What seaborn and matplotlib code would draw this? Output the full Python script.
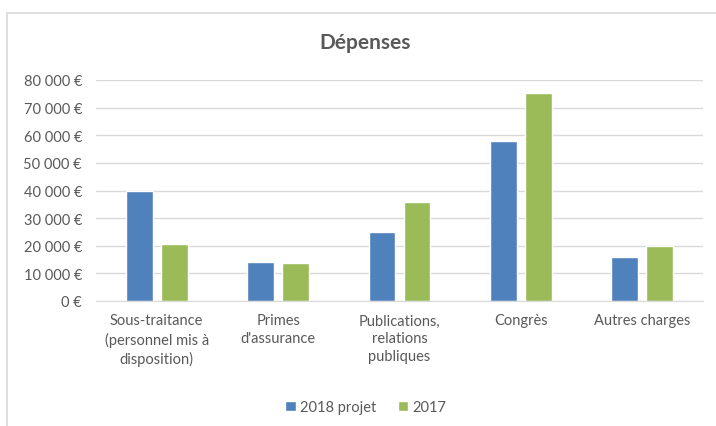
import pandas as pd
import seaborn as sns
import matplotlib.pyplot as plt
from matplotlib.patches import Rectangle
from matplotlib.ticker import FuncFormatter

categories = ["Sous-traitance\n(personnel mis à\ndisposition)", "Primes\nd'assurance",
              "Publications,\nrelations\npubliques", "Congrès", "Autres charges"]
projet_2018 = [40000, 14200, 25000, 58000, 15900]
valeurs_2017 = [20700, 13800, 35900, 75400, 19900]
series = ["2018 projet", "2017"]
couleurs = ["#4F81BD", "#9BBB59"]

df = pd.DataFrame({
    "cat": categories * 2,
    "val": projet_2018 + valeurs_2017,
    "serie": [series[0]] * 5 + [series[1]] * 5,
})

sns.set_style("white")
plt.rcParams["font.family"] = ["Lato", "DejaVu Sans"]
gris = "#595959"

fig = plt.figure(figsize=(7.16, 4.27), dpi=100)
ax = fig.add_axes([96 / 716, 1 - 302 / 427, 607 / 716, 221 / 427])

sns.barplot(data=df, x="cat", y="val", hue="serie", palette=couleurs, saturation=1,
            width=0.577, gap=0.23, ax=ax, legend=True)

ax.set_ylim(0, 80000)
ax.set_yticks(range(0, 80001, 10000))
ax.yaxis.set_major_formatter(FuncFormatter(lambda v, p: f"{int(v):,} €".replace(",", " ")))
ax.grid(axis="y", color="#d9d9d9", lw=1)
ax.set_axisbelow(True)
for s in ["top", "right", "left"]:
    ax.spines[s].set_visible(False)
ax.spines["bottom"].set_color("#d9d9d9")
ax.tick_params(length=0, colors=gris, labelsize=10.5)
ax.tick_params(axis="y", pad=10)
ax.tick_params(axis="x", pad=9)
for t in ax.get_xticklabels():
    t.set_linespacing(1.35)
ax.set_xlabel("")
ax.set_ylabel("")

ax.legend(loc="upper center", bbox_to_anchor=(0.445, -0.39), ncol=2, frameon=False,
          fontsize=10.5, labelcolor=gris, handlelength=0.7, handleheight=0.7,
          handletextpad=0.3, columnspacing=1.5)

fig.text(365 / 716, 1 - 43 / 427, "Dépenses", ha="center", va="center",
         fontsize=15, fontweight="bold", color=gris)

fig.patches.append(Rectangle((7 / 716, -0.1), 1.2, 1 - 14 / 427 + 0.1,
                             transform=fig.transFigure, fill=False,
                             edgecolor="#d9d9d9", lw=1.2))

fig.savefig("out.png", dpi=100)
